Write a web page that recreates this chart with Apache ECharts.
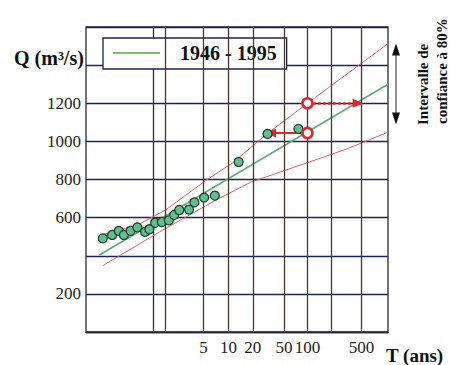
<!DOCTYPE html>
<html><head><meta charset="utf-8">
<script src="https://cdn.jsdelivr.net/npm/echarts@6/dist/echarts.min.js"></script>
<style>html,body{margin:0;padding:0;background:#fff}#c{width:451px;height:365px}</style>
</head><body><div id="c"></div>
<script>
// Return periods T (years) with vertical grid lines, and their labels
const returnPeriods = [2, 5, 10, 20, 50, 100, 200, 500];
const returnLabels = ['', '5', '10', '20', '50', '100', '', '500'];
// Labelled discharge ticks (m3/s)
const qTickLabels = [200, 600, 800, 1000, 1200];
// Observed annual floods: Gumbel reduced variate u, discharge Q
const obsU = [-1.50, -1.22, -1.02, -0.87, -0.67, -0.47, -0.24, -0.11, 0.06, 0.26, 0.47, 0.63, 0.78, 1.07, 1.23, 1.52, 1.84, 2.55, 3.41, 4.33];
const obsQ = [491, 509, 530, 509, 531, 549, 525, 539, 573, 577, 586, 614, 640, 642, 680, 705, 715, 892, 1039, 1066];
// Fitted Gumbel line 1946 - 1995
const fitU = [-1.6, 7.0];
const fitQ = [404, 1300];
// 80% confidence band
const upperU = [-1.50, -0.46, 0.37, 1.55, 2.39, 3.41, 4.60, 7.0];
const upperQ = [512, 561, 640, 792, 890, 1042, 1200, 1513];
const lowerU = [-1.50, 0.20, 1.85, 2.90, 5.77, 7.0];
const lowerQ = [348, 526, 690, 785, 960, 1048];
// Annotation: T=100 estimate and its upper bound, equivalent return periods
const markT = 100;
const markQcentral = 1044;
const markQupper = 1200;
const arrowToU = 3.50;   // solid arrow tip (upper bound reaches 1044 at ~T=30)
const dottedToU = 6.11;  // dotted arrow tip (central line reaches 1200 at ~T=500)

function gumbel(T) { return -Math.log(-Math.log(1 - 1 / T)); }
const uTicks = returnPeriods.map(gumbel);
const zip = (a, b) => a.map((v, i) => [v, b[i]]);

const serif = 'Liberation Serif, Times New Roman, serif';
const red = '#e3242b';
const chart = echarts.init(document.getElementById('c'), null, {renderer: 'svg'});
const markU = gumbel(markT);

chart.setOption({
  animation: false,
  backgroundColor: '#fff',
  grid: {left: 86, top: 27, width: 302, height: 305, show: true, borderColor: '#2b2b3a', borderWidth: 1.3, backgroundColor: 'transparent'},
  legend: {
    left: 103, top: 38, padding: [5, 10, 6, 10],
    backgroundColor: '#fff', borderColor: '#1b2450', borderWidth: 1.3, borderRadius: 0,
    icon: 'rect', itemWidth: 47, itemHeight: 2,
    data: [{name: '1946 - 1995', itemStyle: {color: '#7cc35e'}}],
    textStyle: {fontFamily: serif, fontWeight: 'bold', fontSize: 20, color: '#111', padding: [0, 0, 0, 15], lineHeight: 20}
  },
  xAxis: {
    type: 'value', min: -2, max: 7,
    axisLine: {show: true, lineStyle: {color: '#2b2b3a', width: 1.3}},
    axisTick: {show: false, customValues: uTicks},
    axisLabel: {
      customValues: uTicks, margin: 7,
      fontFamily: serif, fontSize: 17, color: '#222',
      formatter: v => { let i = uTicks.findIndex(t => Math.abs(t - v) < 1e-6); return i >= 0 ? returnLabels[i] : ''; }
    },
    splitLine: {show: false}
  },
  yAxis: {
    type: 'value', min: 0, max: 1600, interval: 200,
    axisLine: {show: true, lineStyle: {color: '#2b2b3a', width: 1.3}},
    axisTick: {show: false},
    axisLabel: {margin: 5, fontFamily: serif, fontSize: 17, color: '#222',
      formatter: v => qTickLabels.indexOf(v) >= 0 ? String(v) : ''},
    splitLine: {show: true, lineStyle: {color: '#1b2550', width: 1.3}}
  },
  series: [
    {name: 'vgrid', type: 'line', data: [], z: 1,
      markLine: {silent: true, animation: false, symbol: 'none', label: {show: false},
        lineStyle: {color: '#4e3426', width: 1.3, type: 'solid'},
        data: uTicks.map(u => ({xAxis: u}))}},
    {name: '1946 - 1995', type: 'line', data: zip(fitU, fitQ), symbol: 'none',
      lineStyle: {color: '#64ad7c', width: 1.8}, z: 3},
    {name: 'upper', type: 'line', data: zip(upperU, upperQ), symbol: 'none',
      lineStyle: {color: '#e06068', width: 1}, z: 3},
    {name: 'lower', type: 'line', data: zip(lowerU, lowerQ), symbol: 'none',
      lineStyle: {color: '#e06068', width: 1}, z: 3},
    {name: 'obs', type: 'scatter', data: zip(obsU, obsQ), symbolSize: 9,
      itemStyle: {color: '#5fbf8e', borderColor: '#1f3a2b', borderWidth: 1.2, opacity: 1}, z: 5},
    {name: 'arrows', type: 'line', data: [], z: 6,
      markLine: {
        silent: true, animation: false, label: {show: false},
        symbol: ['none', 'triangle'], symbolSize: [9, 11],
        data: [
          [{coord: [markU - 0.17, markQcentral], lineStyle: {color: red, width: 2, type: 'solid'}}, {coord: [arrowToU, markQcentral]}],
          [{coord: [markU + 0.17, markQupper], lineStyle: {color: red, width: 2.5, type: 'dotted'}}, {coord: [dottedToU, markQupper]}]
        ],
        itemStyle: {color: red}
      }},
    {name: 'marks', type: 'scatter', data: [[markU, markQupper], [markU, markQcentral]], symbolSize: 10,
      itemStyle: {color: '#fff', borderColor: red, borderWidth: 2.6, opacity: 1}, z: 7}
  ]
});

// Annotations outside the plot area
const xR = chart.convertToPixel({gridIndex: 0}, [7, 0])[0];
const yTop = chart.convertToPixel({gridIndex: 0}, [7, upperQ[upperQ.length - 1]])[1];
const yBot = chart.convertToPixel({gridIndex: 0}, [7, lowerQ[lowerQ.length - 1] + 40])[1];
const ax = xR + 8;
chart.setOption({
  graphic: [
    {type: 'line', shape: {x1: ax, y1: yTop + 8, x2: ax, y2: yBot - 8}, style: {stroke: '#222', lineWidth: 1}},
    {type: 'polygon', shape: {points: [[ax, yTop], [ax - 4, yTop + 12], [ax + 4, yTop + 12]]}, style: {fill: '#111'}},
    {type: 'polygon', shape: {points: [[ax, yBot], [ax - 4, yBot - 12], [ax + 4, yBot - 12]]}, style: {fill: '#111'}},
    {type: 'text', x: 14, y: 58, style: {text: 'Q (m³/s)', font: 'bold 20px ' + serif, fill: '#111', textVerticalAlign: 'middle'}},
    {type: 'text', x: 386, y: 355, style: {text: 'T (ans)', font: 'bold 19px ' + serif, fill: '#111', textVerticalAlign: 'middle'}},
    {type: 'text', x: 423, y: 125, rotation: Math.PI / 2, style: {text: 'Intervalle de', font: 'bold 15px ' + serif, fill: '#111', textAlign: 'left', textVerticalAlign: 'middle'}},
    {type: 'text', x: 442, y: 124, rotation: Math.PI / 2, style: {text: 'confiance à 80%', font: 'bold 15px ' + serif, fill: '#111', textAlign: 'left', textVerticalAlign: 'middle'}}
  ]
});
</script></body></html>
